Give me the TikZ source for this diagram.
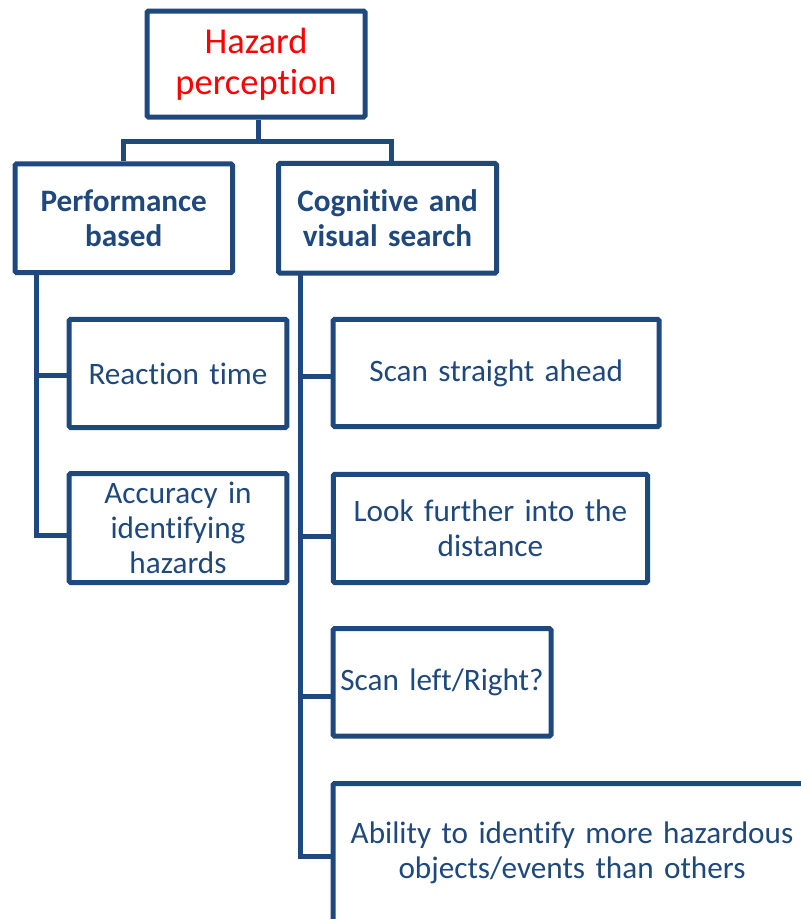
\documentclass[tikz,border=0pt]{standalone}
\usepackage{fontspec}
\setmainfont{Carlito}[Ligatures={NoCommon,NoRare,NoContextual}]
\definecolor{dblue}{HTML}{1F497D}
\definecolor{hred}{HTML}{FF0000}
\tikzset{
  box/.style={draw=dblue, line width=5pt, rounded corners=1.5pt, fill=white,
    inner sep=0pt, align=center, text=dblue, font=\fontsize{31.2}{35}\selectfont},
  conn/.style={draw=dblue, line width=5pt}
}
\begin{document}
\begin{tikzpicture}[x=1pt,y=-1pt]
\useasboundingbox (0,0) rectangle (801,919);
\clip (0,0) rectangle (801,919);
\fill[white] (0,0) rectangle (801,919);
% nodes
\node[box, minimum width=218, minimum height=106, text width=210pt, text=hred,
  font=\fontsize{36.5}{41}\selectfont] (top) at (256,64) {Hazard\\perception};
\node[box, minimum width=217.5, minimum height=108.7, text width=210pt,
  font=\fontsize{31.2}{35}\selectfont\bfseries] (perf) at (123.75,218.2) {Performance\\based};
\node[box, minimum width=218, minimum height=109.7, text width=210pt,
  font=\fontsize{31.2}{35}\selectfont\bfseries] (cog) at (387.5,218.2) {Cognitive and\\visual search};
\node[box, minimum width=217.6, minimum height=108.3, text width=210pt] (react) at (178,373.4) {Reaction time};
\node[box, minimum width=217.6, minimum height=109, text width=210pt] (acc) at (178,528) {Accuracy in\\identifying\\hazards};
\node[box, minimum width=326, minimum height=107.3, text width=318pt] (scan) at (496.2,372.9) {Scan straight ahead};
\node[box, minimum width=314.3, minimum height=108.3, text width=306pt] (look) at (490.4,528.4) {Look further into the\\distance};
\node[box, minimum width=218, minimum height=107.5, text width=216pt] (lr) at (442,682.3) {Scan left/Right?};
\node[box, minimum width=478, minimum height=139, text width=470pt] (abil) at (572,853) {Ability to identify more hazardous\\objects/events than others};
% connectors
\coordinate (bar) at (258,141.7);
\draw[conn] ([xshift=2pt]top.south) -- (bar);
\draw[conn] (perf.north) |- (bar) -| ([xshift=4.3pt]cog.north);
\coordinate (lt) at (36.8,272.5);
\coordinate (rc) at ([yshift=-2.4pt]react.west);
\coordinate (ac) at ([yshift=-7pt]acc.west);
\draw[conn] (lt) |- (ac);
\draw[conn] (rc) -- (rc -| lt);
\coordinate (rt) at (300,273);
\coordinate (sc) at ([yshift=-3.6pt]scan.west);
\coordinate (lc) at ([yshift=-8.1pt]look.west);
\coordinate (lrc) at ([yshift=-14.2pt]lr.west);
\coordinate (abc) at ([yshift=-3.5pt]abil.west);
\draw[conn] (rt) |- (abc);
\draw[conn] (sc) -- (sc -| rt);
\draw[conn] (lc) -- (lc -| rt);
\draw[conn] (lrc) -- (lrc -| rt);
\end{tikzpicture}
\end{document}
